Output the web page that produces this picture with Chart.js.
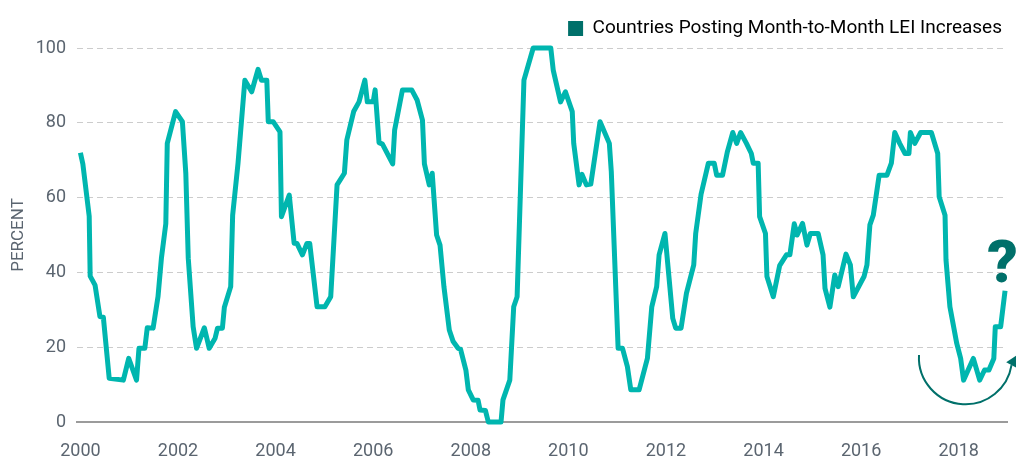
<!DOCTYPE html>
<html>
<head>
<meta charset="utf-8">
<script src="https://cdn.jsdelivr.net/npm/chart.js@4"></script>
<style>
  html, body { margin: 0; padding: 0; background: #fff; }
  #wrap { width: 1016px; height: 457px; position: relative; }
</style>
</head>
<body>
<div id="wrap"><canvas id="leiChart"></canvas></div>
<script>
// --- DADOS ---
const seriesLabel = 'Countries Posting Month-to-Month LEI Increases';

// ano decimal de cada vértice da linha
const years = [
  2000.00, 2000.05, 2000.18, 2000.20, 2000.30, 2000.40, 2000.47, 2000.59, 2000.88, 2000.99,
  2001.15, 2001.20, 2001.32, 2001.37, 2001.49, 2001.59, 2001.66, 2001.75, 2001.78, 2001.95,
  2002.09, 2002.16, 2002.21, 2002.31, 2002.38, 2002.54, 2002.64, 2002.76, 2002.81, 2002.91,
  2002.95, 2003.08, 2003.12, 2003.23, 2003.37, 2003.51, 2003.64, 2003.71, 2003.82, 2003.85,
  2003.95, 2004.09, 2004.12, 2004.28, 2004.38, 2004.44, 2004.55, 2004.64, 2004.70, 2004.85,
  2005.01, 2005.13, 2005.26, 2005.41, 2005.46, 2005.60, 2005.71, 2005.83, 2005.88, 2006.00,
  2006.04, 2006.12, 2006.19, 2006.40, 2006.44, 2006.60, 2006.79, 2006.90, 2007.01, 2007.05,
  2007.15, 2007.21, 2007.30, 2007.37, 2007.45, 2007.56, 2007.64, 2007.74, 2007.79, 2007.90,
  2007.95, 2008.05, 2008.15, 2008.19, 2008.30, 2008.36, 2008.62, 2008.66, 2008.80, 2008.88,
  2008.95, 2009.09, 2009.28, 2009.64, 2009.69, 2009.84, 2009.94, 2010.08, 2010.11, 2010.22,
  2010.28, 2010.37, 2010.46, 2010.65, 2010.84, 2010.88, 2011.02, 2011.11, 2011.21, 2011.28,
  2011.45, 2011.62, 2011.71, 2011.81, 2011.86, 2011.98, 2012.14, 2012.20, 2012.31, 2012.42,
  2012.57, 2012.61, 2012.72, 2012.87, 2012.99, 2013.04, 2013.16, 2013.26, 2013.37, 2013.45,
  2013.53, 2013.65, 2013.75, 2013.79, 2013.89, 2013.92, 2014.04, 2014.07, 2014.20, 2014.33,
  2014.47, 2014.54, 2014.63, 2014.69, 2014.80, 2014.89, 2014.96, 2015.12, 2015.22, 2015.26,
  2015.36, 2015.46, 2015.53, 2015.69, 2015.78, 2015.84, 2016.06, 2016.12, 2016.18, 2016.25,
  2016.37, 2016.53, 2016.62, 2016.69, 2016.79, 2016.90, 2016.98, 2017.01, 2017.10, 2017.22,
  2017.44, 2017.57, 2017.60, 2017.72, 2017.74, 2017.82, 2017.96, 2018.04, 2018.10, 2018.30,
  2018.43, 2018.53, 2018.62, 2018.72, 2018.75, 2018.86, 2018.95
];

// percentual de países com alta no LEI
const pct = [
  72, 69, 55, 39, 36.6, 28.2, 28, 11.7, 11.2, 17,
  11.2, 19.7, 19.7, 25.2, 25.1, 33.5, 43.8, 53, 74.5, 83,
  80.3, 66.5, 43.8, 25.5, 19.7, 25.2, 19.7, 22.4, 25.1, 25.1,
  30.7, 36.2, 55.3, 69.2, 91.4, 88.3, 94.3, 91.4, 91.4, 80.3,
  80.3, 77.6, 54.9, 60.7, 47.8, 47.7, 44.7, 47.7, 47.7, 30.8,
  30.8, 33.5, 63.4, 66.5, 75.4, 83, 85.6, 91.4, 85.6, 85.6,
  88.8, 74.7, 74.3, 69, 78.1, 88.8, 88.8, 86.1, 80.7, 69,
  63.4, 66.5, 50, 47.3, 36.2, 24.6, 21.5, 19.7, 19.5, 13.9,
  8.6, 5.9, 5.8, 3.2, 3.1, 0, 0, 5.9, 11.2, 30.8,
  33.5, 91.4, 100, 100, 94.1, 85.6, 88.3, 83, 74.5, 63.4,
  66.2, 63.4, 63.6, 80.3, 74.5, 67, 19.7, 19.7, 14.8, 8.6,
  8.6, 17, 30.8, 36.2, 44.7, 50.4, 27.7, 25.1, 25.1, 34.4,
  42, 50.4, 60.9, 69.2, 69.2, 66, 66, 72.3, 77.4, 74.5,
  77.4, 74.5, 71.8, 69.2, 69.2, 54.9, 50.4, 38.9, 33.5, 41.8,
  44.7, 44.7, 53, 50, 53.1, 47.3, 50.4, 50.4, 44.7, 35.7,
  30.7, 39.3, 36.2, 44.9, 42, 33.5, 38.9, 42, 52.7, 55.3,
  66, 66, 69.2, 77.4, 74.5, 71.8, 71.8, 77.4, 74.5, 77.4,
  77.4, 71.8, 60.2, 55.3, 43.3, 30.8, 21, 17, 11.2, 17,
  11.2, 13.9, 13.9, 17, 25.5, 25.5, 35.1
];

const xTicks = [2000, 2002, 2004, 2006, 2008, 2010, 2012, 2014, 2016, 2018];
const yTicks = [0, 20, 40, 60, 80, 100];

// --- ESTILO ---
const lineColor = '#00b6af';
const darkTeal = '#00706a';
const tickColor = '#5b6570';
const FONT = "Roboto, 'Open Sans', sans-serif";

Chart.defaults.font.family = FONT;

// seta circular + "?" no fim da série
const annotationPlugin = {
  id: 'turnAround',
  afterDatasetsDraw(chart) {
    const { ctx, scales: { x, y } } = chart;
    const cx = x.getPixelForValue(2018.14);
    const cy = y.getPixelForValue(17.2);
    const r = 46.6;
    const a0 = Math.PI + 0.056, a1 = 0.16;

    ctx.save();
    ctx.strokeStyle = darkTeal;
    ctx.fillStyle = darkTeal;
    ctx.lineWidth = 2;
    ctx.beginPath();
    ctx.arc(cx, cy, r, a0, a1, true);
    ctx.stroke();

    // ponta da seta
    const ex = cx + r * Math.cos(a1), ey = cy + r * Math.sin(a1);
    const dx = Math.sin(a1) + 0.35, dy = -Math.cos(a1);
    const len = Math.hypot(dx, dy);
    const ux = dx / len, uy = dy / len;
    const nx = -uy, ny = ux;
    ctx.beginPath();
    ctx.moveTo(ex + ux * 11, ey + uy * 11);
    ctx.lineTo(ex + nx * 6, ey + ny * 6);
    ctx.lineTo(ex - nx * 6, ey - ny * 6);
    ctx.closePath();
    ctx.fill();

    ctx.font = "900 60px " + FONT;
    ctx.textAlign = 'center';
    ctx.textBaseline = 'alphabetic';
    ctx.fillText('?', x.getPixelForValue(2018.9), y.getPixelForValue(37.4));
    ctx.restore();
  }
};

new Chart(document.getElementById('leiChart'), {
  type: 'line',
  data: {
    datasets: [{
      label: seriesLabel,
      data: years.map((yr, i) => ({ x: yr, y: pct[i] })),
      borderColor: lineColor,
      backgroundColor: darkTeal,
      borderWidth: 5,
      borderJoinStyle: 'round',
      pointRadius: 0,
      tension: 0,
      fill: false,
      clip: false
    }]
  },
  options: {
    responsive: true,
    maintainAspectRatio: false,
    animation: false,
    layout: { padding: { left: 0, right: 9, top: 14, bottom: 0 } },
    plugins: {
      tooltip: { enabled: false },
      legend: {
        position: 'top',
        align: 'end',
        labels: {
          boxWidth: 15,
          boxHeight: 15,
          padding: 5,
          color: '#1b1b1b',
          font: { size: 19 },
          generateLabels: () => [{ text: seriesLabel, fillStyle: darkTeal, strokeStyle: darkTeal, lineWidth: 0, hidden: false, datasetIndex: 0 }]
        }
      }
    },
    scales: {
      x: {
        type: 'linear',
        min: 1999.93,
        max: 2018.99,
        afterBuildTicks: s => { s.ticks = xTicks.map(v => ({ value: v })); },
        afterFit: s => { s.height = 35; },
        grid: { color: 'transparent', drawTicks: false },
        border: { display: true, color: '#9b9b9b', width: 2 },
        ticks: { color: tickColor, font: { size: 18 }, padding: 19, maxRotation: 0, callback: v => String(v) }
      },
      y: {
        min: 0,
        max: 100,
        afterBuildTicks: s => { s.ticks = yTicks.map(v => ({ value: v })); },
        afterFit: s => { s.width = 77; },
        grid: {
          color: c => (c.tick && c.tick.value === 0) ? 'transparent' : '#cccccc',
          lineWidth: 1,
          drawTicks: false
        },
        border: { display: false, dash: [6, 4] },
        ticks: { color: tickColor, font: { size: 18 }, padding: 11 },
        title: { display: true, text: 'PERCENT', color: tickColor, font: { size: 17 }, padding: { top: 9, bottom: 0 } }
      }
    }
  },
  plugins: [annotationPlugin]
});
</script>
</body>
</html>
